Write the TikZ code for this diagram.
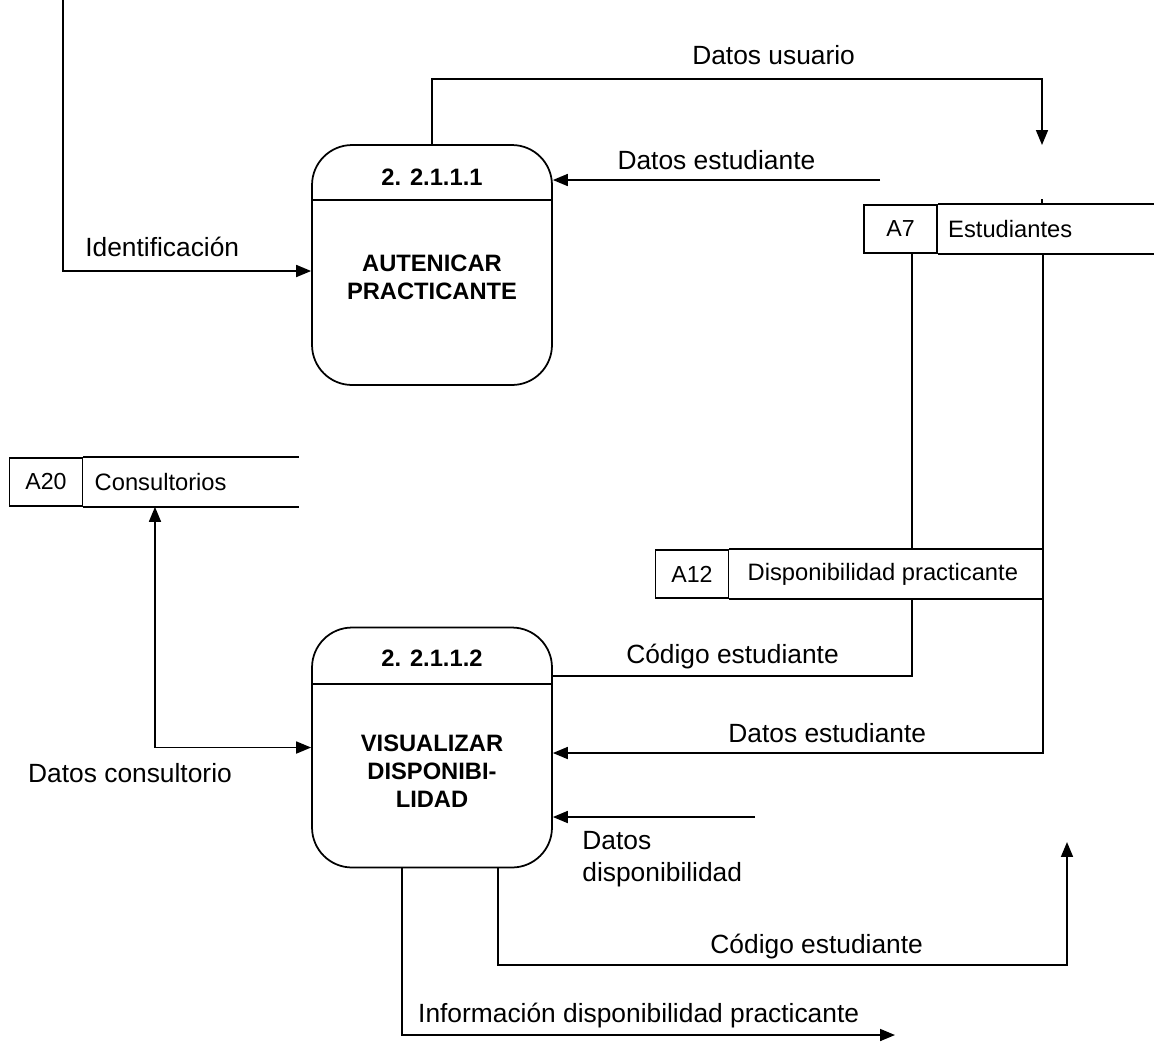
\documentclass[tikz,border=0pt]{standalone}
\usepackage{fontspec}
\setmainfont{Liberation Sans}
\usetikzlibrary{arrows.meta, positioning, calc}

\begin{document}
\begin{tikzpicture}[
        x=0.02cm, y=-0.02cm,
        every node/.style={font=\fontsize{15}{18}\selectfont},
        proc/.style={draw, line width=1pt, rounded corners=0.8cm,
                     minimum width=4.8cm, minimum height=4.8cm, inner sep=0pt},
        ptitle/.style={align=center, font=\fontsize{13.5}{16}\selectfont\bfseries},
        cell/.style={draw, line width=1pt, minimum width=1.46cm,
                     minimum height=0.96cm, inner sep=0pt,
                     font=\fontsize{13.2}{15}\selectfont},
        sname/.style={anchor=west, inner sep=0pt, font=\fontsize{13.5}{15}\selectfont},
        flow/.style={line width=1pt},
        arr/.style={-{Triangle[length=8.5pt, width=6.8pt]}, line width=1pt},
        lbl/.style={above=2pt}
    ]
        \useasboundingbox (0,0) rectangle (1155,1042);

        % processes
        \node[proc] (p1) at (432,265) {};
        \node[ptitle] (p1id) at (432,177) {2. 2.1.1.1};
        \draw[flow] ($(p1.north west)+(0,56)$) -- ($(p1.north east)+(0,56)$);
        \node[ptitle] (p1txt) at (432,277) {AUTENICAR\\PRACTICANTE};

        \node[proc] (p2) at (432,747.5) {};
        \node[ptitle] (p2id) at (432,658) {2. 2.1.1.2};
        \draw[flow] ($(p2.north west)+(0,57)$) -- ($(p2.north east)+(0,57)$);
        \node[ptitle] (p2txt) at (432,771) {VISUALIZAR\\DISPONIBI-\\LIDAD};

        % stores
        \node[cell] (a7) at (900.5,229) {A7};
        \node[sname] (a7n) at ([xshift=0.2cm]a7.east) {Estudiantes};
        \draw[flow] (a7.north east) -- ++(216,0);
        \draw[flow] (a7.south east) -- ++(216,0);

        \node[cell] (a20) at (46,482) {A20};
        \node[sname] (a20n) at ([xshift=0.22cm]a20.east) {Consultorios};
        \draw[flow] (a20.north east) -- ++(216,0);
        \draw[flow] (a20.south east) -- ++(216,0);

        \node[cell] (a12) at (692,574) {A12};
        \node[sname] (a12n) at ([xshift=0.36cm]a12.east) {Disponibilidad practicante};
        \draw[flow] (a12.north east) -- ++(314,0);
        \draw[flow] (a12.south east) -- ++(314,0);

        % flows
        \coordinate (idsrc) at (63,0);
        \draw[arr] (idsrc) |- node[pos=0.7, above=4.5pt] {Identificación} ($(p1.west)+(0,6)$);

        \coordinate (dusr) at (1042,145);
        \draw[arr] (p1.north) -- ++(0,-65) -| node[pos=0.28, above=4.5pt] {Datos usuario} (dusr);
        \coordinate (a7stub) at (1042,199);
        \draw[flow] (a7stub) -- (a7stub |- a7.north);

        \coordinate (destsrc) at (880,180);
        \draw[arr] (destsrc) -- node[lbl] {Datos estudiante} (destsrc -| p1.east);

        \draw[flow] ([xshift=0.98cm]a7.south west) -- ([xshift=0.98cm]a7.south west |- a12.north);
        \draw[flow] ([xshift=0.98cm]a7.south west |- a12.south)
            |- node[pos=0.75, above=0pt] {Código estudiante} ($(p2.north east)+(0,49)$);

        \draw[arr] ([xshift=2.1cm]a7.south east)
            |- node[pos=0.72, lbl] {Datos estudiante} ($(p2.east)+(0,5.5)$);

        \coordinate (ddsrc) at (755,817);
        \draw[arr] (ddsrc) -- (ddsrc -| p2.east);
        \node[anchor=west, align=left, inner sep=0pt] (ddlbl) at (582,859) {Datos\\disponibilidad};

        \draw[{Triangle[length=8.5pt, width=6.8pt]}-{Triangle[length=8.5pt, width=6.8pt]}, line width=1pt]
            ([xshift=2.18cm]a20.south) |- (p2.west);
        \node (conslbl) at (130,773) {Datos consultorio};

        \coordinate (cesink) at (1067,842);
        \draw[arr] ([xshift=1.32cm]p2.south) -- ++(0,97)
            -| node[pos=0.28, above=0pt] {Código estudiante} (cesink);

        \coordinate (infsink) at (895,1035);
        \draw[arr] ([xshift=-0.6cm]p2.south)
            |- node[pos=0.74, above=0pt] {Información disponibilidad practicante} (infsink);
    \end{tikzpicture}
\end{document}
